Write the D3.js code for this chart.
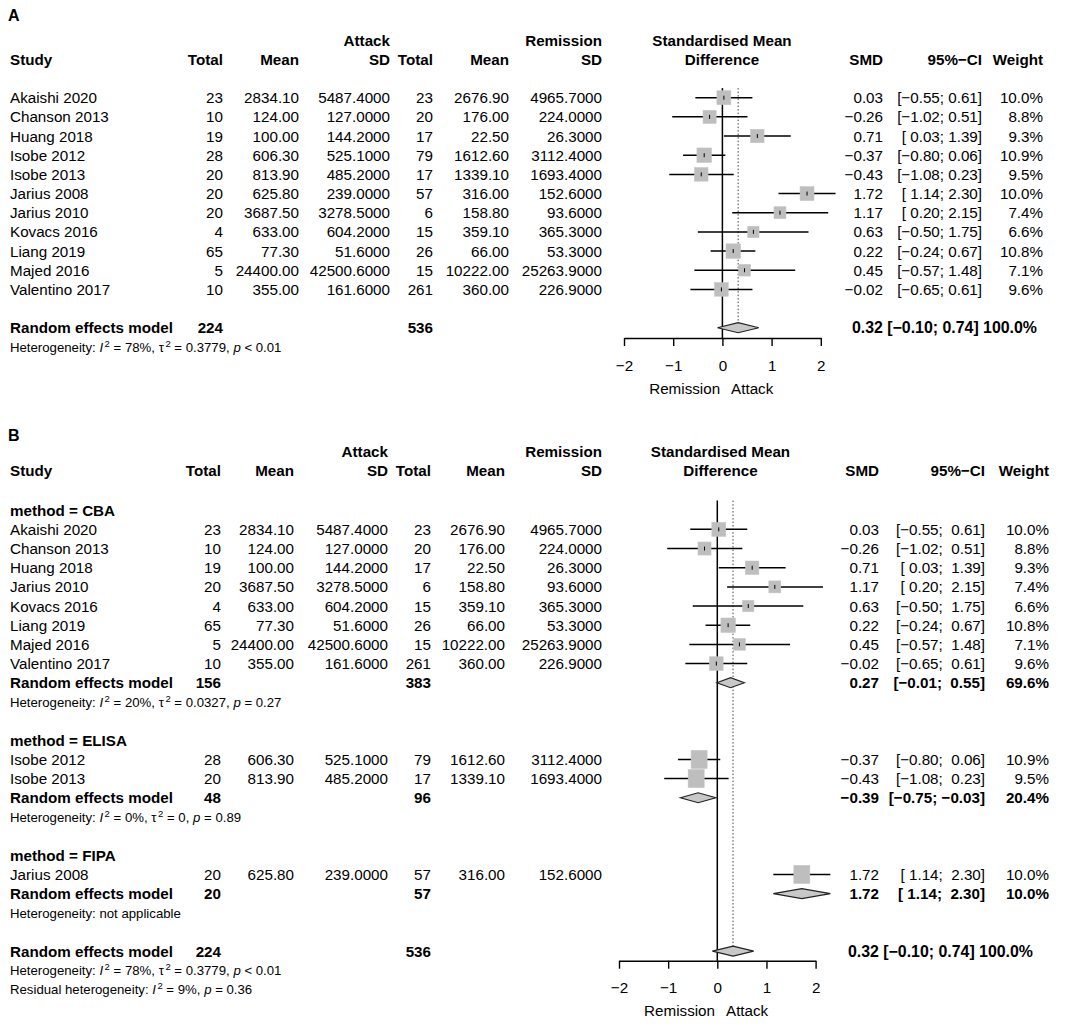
<!DOCTYPE html>
<html><head><meta charset="utf-8">
<script src="https://cdn.jsdelivr.net/npm/d3@7"></script>
<style>
body{margin:0;background:#fff}
svg text{font-family:"Liberation Sans",Arial,Helvetica,sans-serif;white-space:pre;fill:#000}
</style></head><body>
<svg id="chart" width="1084" height="1024"></svg>
<script>
// ---------------- data ----------------
const studies = ["Akaishi 2020","Chanson 2013","Huang 2018","Isobe 2012","Isobe 2013","Jarius 2008","Jarius 2010","Kovacs 2016","Liang 2019","Majed 2016","Valentino 2017"];
const attackTotal = [23,10,19,28,20,20,20,4,65,5,10];
const attackMean  = [2834.10,124.00,100.00,606.30,813.90,625.80,3687.50,633.00,77.30,24400.00,355.00];
const attackSD    = [5487.4,127.0,144.2,525.1,485.2,239.0,3278.5,604.2,51.6,42500.6,161.6];
const remTotal    = [23,20,17,79,17,57,6,15,26,15,261];
const remMean     = [2676.90,176.00,22.50,1612.60,1339.10,316.00,158.80,359.10,66.00,10222.00,360.00];
const remSD       = [4965.7,224.0,26.3,3112.4,1693.4,152.6,93.6,365.3,53.3,25263.9,226.9];
const smd         = [0.03,-0.26,0.71,-0.37,-0.43,1.72,1.17,0.63,0.22,0.45,-0.02];
const ciLower     = [-0.55,-1.02,0.03,-0.80,-1.08,1.14,0.20,-0.50,-0.24,-0.57,-0.65];
const ciUpper     = [0.61,0.51,1.39,0.06,0.23,2.30,2.15,1.75,0.67,1.48,0.61];
const weight      = [10.0,8.8,9.3,10.9,9.5,10.0,7.4,6.6,10.8,7.1,9.6];
const method      = ["CBA","CBA","CBA","ELISA","ELISA","FIPA","CBA","CBA","CBA","CBA","CBA"];
const orderB      = ["Akaishi 2020","Chanson 2013","Huang 2018","Jarius 2010","Kovacs 2016","Liang 2019","Majed 2016","Valentino 2017","Isobe 2012","Isobe 2013","Jarius 2008"];

const subgroups   = ["CBA","ELISA","FIPA"];
const subSMD      = [0.27,-0.39,1.72];
const subLower    = [-0.01,-0.75,1.14];
const subUpper    = [0.55,-0.03,2.30];
const subWeight   = [69.6,20.4,10.0];
const subAttackN  = [156,48,20];
const subRemN     = [383,96,57];
const subI2       = ["20%","0%",null];
const subTau2     = ["0.0327","0",null];
const subP        = ["= 0.27","= 0.89",null];

const overallEst  = [0.32,-0.10,0.74];   // SMD, lower, upper
const overallWeight = 100.0;
const overallN    = [224,536];
const overallHet  = ["78%","0.3779","< 0.01"]; // I2, tau2, p
const residualHet = ["9%","= 0.36"];            // I2, p
const axisTicks   = [-2,-1,0,1,2];
const xLabels     = ["Remission","Attack"];

// ---------------- helpers ----------------
const svg = d3.select("#chart");
const ROW = 19.17, FS = 15.2, FSH = 13.2;
const f2 = v => d3.format(".2f")(v).replace("-","\u2212");
const f4 = v => d3.format(".4f")(v);
const fw = v => d3.format(".1f")(v) + "%";
const pad = (s,n) => { while (s.length < n) s = " " + s; return s; };
const ci = (lo,hi,wl,wh) => "[" + pad(f2(lo),wl) + "; " + pad(f2(hi),wh) + "]";

function txt(g,x,y,s,o={}) {
  return g.append("text").attr("x",x).attr("y",y).attr("dy","0.36em")
    .attr("text-anchor",o.anchor||"start")
    .attr("font-size",o.size||FS)
    .attr("font-weight",o.bold?"bold":"normal")
    .text(s);
}
function rich(g,x,y,parts) {
  const t = g.append("text").attr("x",x).attr("y",y).attr("dy","0.36em").attr("font-size",FSH);
  parts.forEach(p => {
    const [s,st] = p;
    const ts = t.append("tspan").text(s);
    if (st==="i") ts.attr("font-style","italic");
    if (st==="sup") ts.attr("font-size",FSH*0.72).attr("dy",-5).attr("dx",1.5);
    if (st==="after") ts.attr("dy",5);
  });
}
function hetParts(i2,tau2,p) {
  if (i2===null) return [["Heterogeneity: not applicable"]];
  return [["Heterogeneity: "],["I","i"],["2","sup"],[" = "+i2+", \u03c4","after"],["2","sup"],[" = "+tau2+", ","after"],["p","i"],[" "+p]];
}
function diamond(g,x,est,lo,hi,y,h) {
  g.append("path")
   .attr("d",`M${x(lo)},${y}L${x(est)},${y-h}L${x(hi)},${y}L${x(est)},${y+h}Z`)
   .attr("fill","#c8c8c8").attr("stroke","#222").attr("stroke-width",1.2);
}
function studyMark(g,x,i,y,w,h) {
  g.append("line").attr("x1",x(ciLower[i])).attr("x2",x(ciUpper[i])).attr("y1",y).attr("y2",y)
   .attr("stroke","#000").attr("stroke-width",1.5);
  g.append("rect").attr("x",x(smd[i])-w/2).attr("y",y-h/2).attr("width",w).attr("height",h)
   .attr("fill","#bebebe").attr("stroke","#c4c4c4").attr("stroke-width",0.6);
  if (w < 15) {
    g.append("line").attr("x1",x(smd[i])).attr("x2",x(smd[i])).attr("y1",y-2).attr("y2",y+2)
     .attr("stroke","#000").attr("stroke-width",1);
  }
}
function drawAxis(g,x,yLine) {
  const ax = d3.axisBottom(x).tickValues(axisTicks).tickSize(8).tickSizeOuter(0).tickPadding(14)
    .tickFormat(d => d<0 ? "\u2212"+Math.abs(d) : String(d));
  const a = g.append("g").attr("transform",`translate(0,${yLine})`).call(ax);
  a.select(".domain").attr("stroke","#000").attr("stroke-width",1.4);
  a.selectAll(".tick line").attr("stroke","#000").attr("stroke-width",1.4);
  a.selectAll(".tick text").attr("font-size",FS).attr("font-family",null).attr("fill","#000");
  txt(g,x(0)-2.3,yLine+50,xLabels[0],{anchor:"end"});
  txt(g,x(0)+8.7,yLine+50,xLabels[1]);
}
function header(g,c,y1,y2,letter,yL) {
  txt(g,8,yL,letter,{bold:true,size:16});
  txt(g,c.sd1,y1,"Attack",{anchor:"end",bold:true});
  txt(g,c.sd2,y1,"Remission",{anchor:"end",bold:true});
  txt(g,c.diff,y1,"Standardised Mean",{anchor:"middle",bold:true});
  txt(g,c.study,y2,"Study",{bold:true});
  txt(g,c.tot1,y2,"Total",{anchor:"end",bold:true});
  txt(g,c.mean1,y2,"Mean",{anchor:"end",bold:true});
  txt(g,c.sd1,y2,"SD",{anchor:"end",bold:true});
  txt(g,c.tot2,y2,"Total",{anchor:"end",bold:true});
  txt(g,c.mean2,y2,"Mean",{anchor:"end",bold:true});
  txt(g,c.sd2,y2,"SD",{anchor:"end",bold:true});
  txt(g,c.diff,y2,"Difference",{anchor:"middle",bold:true});
  txt(g,c.smd,y2,"SMD",{anchor:"end",bold:true});
  txt(g,c.ci,y2,"95%\u2212CI",{anchor:"end",bold:true});
  txt(g,c.w,y2,"Weight",{anchor:"end",bold:true});
}
function studyRow(g,c,i,y,wl,wh) {
  txt(g,c.study,y,studies[i]);
  txt(g,c.tot1,y,String(attackTotal[i]),{anchor:"end"});
  txt(g,c.mean1,y,d3.format(".2f")(attackMean[i]),{anchor:"end"});
  txt(g,c.sd1,y,f4(attackSD[i]),{anchor:"end"});
  txt(g,c.tot2,y,String(remTotal[i]),{anchor:"end"});
  txt(g,c.mean2,y,d3.format(".2f")(remMean[i]),{anchor:"end"});
  txt(g,c.sd2,y,f4(remSD[i]),{anchor:"end"});
  txt(g,c.smd,y,f2(smd[i]),{anchor:"end"});
  txt(g,c.ci,y,ci(ciLower[i],ciUpper[i],wl,wh),{anchor:"end"});
  txt(g,c.w,y,fw(weight[i]),{anchor:"end"});
}
const overallStr = () => f2(overallEst[0])+" "+ci(overallEst[1],overallEst[2],0,0)+" "+fw(overallWeight);

// ---------------- Panel A ----------------
{
  const g = svg.append("g");
  const lines = g.append("g");
  const c = {study:10,tot1:223,mean1:299,sd1:390,tot2:433,mean2:509,sd2:602,diff:722,smd:883,ci:982,w:1043};
  const x = d3.scaleLinear().domain([-2,2]).range([624,820.8]);
  const y0 = 97.7, rowY = k => y0 + k*ROW;
  header(g,c,40.3,59.5,"A",15);
  const wl = d3.max(ciLower, v => f2(v).length), wh = d3.max(ciUpper, v => f2(v).length);
  const size = d3.scaleSqrt().domain([0,d3.max(weight)]).range([0,14.5]);
  const yRE = rowY(studies.length+1), yAxis = yRE + 10.3;
  lines.append("line").attr("x1",x(0)).attr("x2",x(0)).attr("y1",y0-9.6).attr("y2",yAxis)
   .attr("stroke","#000").attr("stroke-width",1.5);
  lines.append("line").attr("x1",x(overallEst[0])).attr("x2",x(overallEst[0])).attr("y1",y0-9.6).attr("y2",yRE-5)
   .attr("stroke","#444").attr("stroke-width",1).attr("stroke-dasharray","1.5,2");
  studies.forEach((s,i) => {
    const y = rowY(i);
    studyRow(g,c,i,y,wl,wh);
    const sz = size(weight[i]);
    studyMark(g,x,i,y,sz,sz);
  });
  txt(g,c.study,yRE,"Random effects model",{bold:true});
  txt(g,c.tot1,yRE,String(overallN[0]),{anchor:"end",bold:true});
  txt(g,c.tot2,yRE,String(overallN[1]),{anchor:"end",bold:true});
  txt(g,1037,yRE,overallStr(),{bold:true,anchor:"end",size:15.9});
  diamond(g,x,overallEst[0],overallEst[1],overallEst[2],yRE,5);
  rich(g,c.study,rowY(studies.length+2),hetParts(...overallHet));
  drawAxis(g,x,yAxis);
}

// ---------------- Panel B ----------------
{
  const g = svg.append("g");
  const lines = g.append("g");
  const c = {study:10,tot1:221,mean1:294,sd1:388,tot2:431,mean2:505,sd2:602,diff:720.5,smd:879,ci:985,w:1049};
  const x = d3.scaleLinear().domain([-2,2]).range([619,815.6]);
  const y0 = 510.2, rowY = k => y0 + k*ROW;
  header(g,c,451.5,470.7,"B",435);
  const wl = d3.max(ciLower.concat(subLower), v => f2(v).length);
  const wh = d3.max(ciUpper.concat(subUpper), v => f2(v).length);
  const share = d3.scaleSqrt().domain([0,0.155]).range([0,14.4]);
  let k = 0;
  subgroups.forEach((sg,j) => {
    txt(g,c.study,rowY(k),"method = "+sg,{bold:true}); k++;
    const idx = orderB.map(n => studies.indexOf(n)).filter(i => method[i]===sg);
    idx.forEach(i => {
      const y = rowY(k);
      studyRow(g,c,i,y,wl,wh);
      const s = share(weight[i]/subWeight[j]);
      studyMark(g,x,i,y,Math.min(s,16),Math.min(s,18));
      k++;
    });
    const y = rowY(k);
    txt(g,c.study,y,"Random effects model",{bold:true});
    txt(g,c.tot1,y,String(subAttackN[j]),{anchor:"end",bold:true});
    txt(g,c.tot2,y,String(subRemN[j]),{anchor:"end",bold:true});
    txt(g,c.smd,y,f2(subSMD[j]),{anchor:"end",bold:true});
    txt(g,c.ci,y,ci(subLower[j],subUpper[j],wl,wh),{anchor:"end",bold:true});
    txt(g,c.w,y,fw(subWeight[j]),{anchor:"end",bold:true});
    diamond(g,x,subSMD[j],subLower[j],subUpper[j],y,5);
    k++;
    rich(g,c.study,rowY(k),hetParts(subI2[j],subTau2[j],subP[j]));
    k += 2;
  });
  const yOverall = rowY(k);
  const yAxis = yOverall + 9.6;
  lines.append("line").attr("x1",x(0)).attr("x2",x(0)).attr("y1",y0-9.6).attr("y2",yAxis)
   .attr("stroke","#000").attr("stroke-width",1.5);
  lines.append("line").attr("x1",x(overallEst[0])).attr("x2",x(overallEst[0])).attr("y1",y0-9.6).attr("y2",yOverall-5)
   .attr("stroke","#444").attr("stroke-width",1).attr("stroke-dasharray","1.5,2");
  txt(g,c.study,yOverall,"Random effects model",{bold:true});
  txt(g,c.tot1,yOverall,String(overallN[0]),{anchor:"end",bold:true});
  txt(g,c.tot2,yOverall,String(overallN[1]),{anchor:"end",bold:true});
  txt(g,1033,yOverall,overallStr(),{bold:true,anchor:"end",size:15.9});
  diamond(g,x,overallEst[0],overallEst[1],overallEst[2],yOverall,5);
  rich(g,c.study,yOverall+ROW,hetParts(...overallHet));
  rich(g,c.study,yOverall+2*ROW,[["Residual heterogeneity: "],["I","i"],["2","sup"],[" = "+residualHet[0]+", ","after"],["p","i"],[" "+residualHet[1]]]);
  drawAxis(g,x,yAxis);
}
</script>
</body></html>
